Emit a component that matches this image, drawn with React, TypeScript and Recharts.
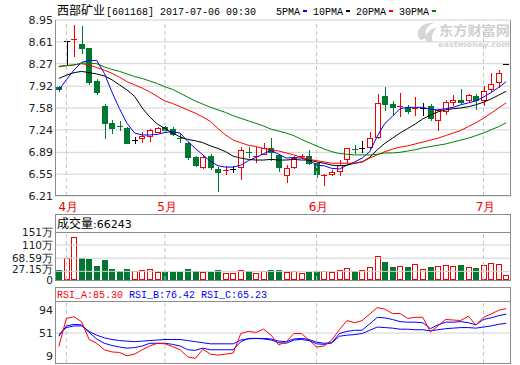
import {
  Bar,
  CartesianGrid,
  ComposedChart,
  Line,
  ReferenceLine,
  XAxis,
  YAxis,
} from "recharts";

// trading days shown (Mar 31 .. Jul 6 2017)
const dates = [
  "03-31",
  "04-05", "04-06", "04-07", "04-10", "04-11", "04-12", "04-13", "04-14", "04-17", "04-18", "04-19", "04-20", "04-21",
  "05-02", "05-03", "05-04", "05-05", "05-08", "05-09", "05-10", "05-11", "05-12", "05-15",
  "05-16", "05-17", "05-18", "05-19", "05-22", "05-23", "05-24", "05-25", "05-26", "05-31",
  "06-01", "06-02", "06-05", "06-06", "06-07", "06-08", "06-09", "06-12", "06-13", "06-14", "06-15",
  "06-16", "06-19", "06-20", "06-21", "06-22", "06-23", "06-26", "06-27", "06-28", "06-29", "06-30",
  "07-03", "07-04", "07-05", "07-06",
];

const opens = [
  7.9, 8.62, 8.64, 8.57, 8.51, 8.0, 7.61, 7.34, 7.3, 7.27, 7.08, 7.11, 7.15, 7.21, 7.28,
  7.26, 7.12, 7.04, 6.82, 6.66, 6.83, 6.63, 6.6, 6.63, 6.66, 6.9, 6.81, 6.87, 6.95, 6.85,
  6.54, 6.66, 6.82, 6.83, 6.72, 6.52, 6.55, 6.6, 6.78, 6.94, 6.96, 6.98, 7.13, 7.76, 7.65,
  7.6, 7.59, 7.57, 7.58, 7.61, 7.4, 7.53, 7.68, 7.7, 7.7, 7.77, 7.7, 7.88, 7.98, 8.27,
];
const highs = [
  7.93, 8.62, 8.87, 8.85, 8.52, 8.03, 7.65, 7.4, 7.37, 7.28, 7.13, 7.21, 7.26, 7.29, 7.3,
  7.28, 7.17, 7.05, 6.83, 6.83, 6.87, 6.66, 6.68, 6.68, 6.98, 6.98, 6.98, 7.03, 7.11, 6.86,
  6.69, 6.83, 6.86, 6.92, 6.73, 6.55, 6.62, 6.77, 6.96, 7.0, 7.06, 7.2, 7.8, 7.9, 7.69,
  7.81, 7.62, 7.75, 7.66, 7.64, 7.56, 7.7, 7.78, 7.87, 7.8, 7.8, 7.92, 8.12, 8.17, 8.27,
];
const lows = [
  7.84, 8.26, 8.39, 8.44, 7.96, 7.8, 7.12, 7.19, 7.24, 7.03, 7.03, 7.05, 7.06, 7.2, 7.22,
  7.16, 7.05, 6.78, 6.68, 6.64, 6.63, 6.29, 6.55, 6.58, 6.47, 6.81, 6.74, 6.86, 6.77, 6.6,
  6.43, 6.65, 6.8, 6.71, 6.5, 6.38, 6.54, 6.54, 6.74, 6.88, 6.9, 6.95, 7.12, 7.55, 7.47,
  7.45, 7.5, 7.47, 7.47, 7.4, 7.24, 7.48, 7.63, 7.66, 7.68, 7.56, 7.63, 7.85, 7.9, 8.26,
];
const closes = [
  7.87, 8.62, 8.66, 8.52, 7.98, 7.83, 7.35, 7.27, 7.28, 7.04, 7.08, 7.15, 7.24, 7.27, 7.23,
  7.18, 7.1, 6.82, 6.69, 6.81, 6.66, 6.58, 6.62, 6.63, 6.92, 6.88, 6.83, 6.95, 6.9, 6.66,
  6.64, 6.8, 6.83, 6.72, 6.55, 6.53, 6.59, 6.69, 6.95, 6.92, 6.96, 7.12, 7.66, 7.65, 7.59,
  7.61, 7.54, 7.58, 7.58, 7.42, 7.55, 7.68, 7.7, 7.68, 7.78, 7.7, 7.85, 7.95, 8.13, 8.27,
];

const ma5 = [
  7.86, 8.02, 8.17, 8.29, 8.32, 8.32, 8.12, 7.83, 7.57, 7.34, 7.19, 7.16, 7.16, 7.17, 7.2,
  7.21, 7.19, 7.06, 6.95, 6.85, 6.75, 6.68, 6.66, 6.66, 6.69, 6.76, 6.81, 6.87, 6.92, 6.86,
  6.8, 6.81, 6.8, 6.77, 6.69, 6.68, 6.64, 6.63, 6.69, 6.74, 6.8, 6.9, 7.14, 7.34, 7.45,
  7.57, 7.59, 7.59, 7.59, 7.56, 7.55, 7.57, 7.59, 7.63, 7.66, 7.69, 7.75, 7.82, 7.9, 7.99,
];
const ma10 = [
  8.04, 8.09, 8.13, 8.15, 8.13, 8.11, 8.08, 8.02, 7.94, 7.86, 7.76, 7.58, 7.44, 7.33, 7.26,
  7.19, 7.13, 7.09, 7.07, 7.04, 6.99, 6.95, 6.9, 6.83, 6.8, 6.78, 6.77, 6.77, 6.78, 6.77,
  6.77, 6.78, 6.77, 6.77, 6.74, 6.72, 6.69, 6.68, 6.69, 6.72, 6.74, 6.81, 6.93, 7.03, 7.11,
  7.19, 7.26, 7.33, 7.41, 7.47, 7.52, 7.55, 7.57, 7.58, 7.6, 7.63, 7.67, 7.72, 7.78, 7.84,
];
const ma20 = [
  8.22, 8.24, 8.25, 8.27, 8.25, 8.21, 8.17, 8.12, 8.06, 7.99, 7.94, 7.89, 7.83, 7.76, 7.69,
  7.65, 7.6, 7.55, 7.5, 7.44, 7.37, 7.26, 7.16, 7.08, 7.04, 7.0, 6.98, 6.95, 6.93, 6.91,
  6.88, 6.85, 6.81, 6.78, 6.76, 6.74, 6.72, 6.72, 6.72, 6.72, 6.74, 6.8, 6.85, 6.9, 6.94,
  6.97, 6.99, 7.02, 7.05, 7.08, 7.11, 7.15, 7.19, 7.23, 7.29, 7.35, 7.42, 7.5, 7.58, 7.66,
];
const ma30 = [
  8.23, 8.24, 8.25, 8.28, 8.28, 8.27, 8.22, 8.18, 8.15, 8.11, 8.07, 8.04, 8.0, 7.96, 7.91,
  7.87, 7.81, 7.75, 7.69, 7.64, 7.59, 7.55, 7.51, 7.46, 7.42, 7.38, 7.34, 7.3, 7.25, 7.22,
  7.19, 7.15, 7.09, 7.04, 6.99, 6.94, 6.9, 6.87, 6.86, 6.85, 6.85, 6.85, 6.86, 6.88, 6.88,
  6.89, 6.91, 6.93, 6.96, 6.98, 7.0, 7.02, 7.05, 7.08, 7.11, 7.15, 7.19, 7.24, 7.29, 7.35,
];

// volume in 万
const volumes = [
  31, 68, 134, 68, 65, 44, 63, 34, 28, 34, 28, 30, 34, 25, 25,
  25, 25, 34, 28, 25, 25, 30, 21, 21, 30, 28, 23, 28, 31, 31,
  24, 27, 21, 25, 28, 27, 24, 30, 37, 28, 30, 40, 74, 57, 41,
  43, 41, 49, 34, 41, 43, 46, 43, 47, 40, 38, 46, 53, 49, 15,
];

const rsiA = [
  26, 78, 81, 72, 39, 32, 20, 16, 15, 9, 12, 20, 27, 32, 31,
  26, 20, 7, 4, 21, 12, 10, 12, 14, 50, 54, 52, 58, 47, 29,
  35, 50, 50, 38, 25, 27, 38, 57, 74, 70, 74, 86, 98, 95, 87,
  87, 78, 80, 80, 53, 64, 76, 75, 74, 82, 66, 80, 86, 93, 96,
];
const rsiB = [
  45, 64, 67, 66, 52, 40, 32, 28, 25, 23, 24, 27, 32, 32, 32,
  30, 27, 20, 19, 23, 20, 20, 20, 20, 35, 41, 41, 40, 38, 33,
  32, 38, 39, 37, 31, 30, 33, 50, 54, 56, 56, 68, 80, 79, 76,
  72, 71, 71, 70, 59, 66, 71, 71, 72, 70, 66, 76, 79, 83, 86,
];
const rsiC = [
  48, 61, 64, 64, 54, 47, 42, 39, 37, 36, 35, 36, 37, 38, 39,
  39, 39, 37, 35, 33, 31, 31, 31, 31, 38, 40, 41, 41, 40, 36,
  35, 40, 41, 39, 34, 32, 33, 45, 47, 48, 50, 56, 62, 61, 60,
  58, 58, 57, 57, 55, 57, 59, 60, 61, 61, 60, 62, 64, 67, 69,
];

const priceTicks = [8.95, 8.61, 8.27, 7.92, 7.58, 7.24, 6.89, 6.55, 6.21];
const volumeTicks = [0, 27.15, 68.59, 110, 151];
const volumeLabels = ["0", "27.15万", "68.59万", "110万", "151万"];
const rsiTicks = [9, 51, 94];
const monthStarts = ["04-05", "05-02", "06-01", "07-03"];
const monthLabels = ["4月", "5月", "6月", "7月"];

const maSeries = [
  { key: "ma5", name: "5PMA", color: "#0000ff" },
  { key: "ma10", name: "10PMA", color: "#000000" },
  { key: "ma20", name: "20PMA", color: "#ff0000" },
  { key: "ma30", name: "30PMA", color: "#008000" },
];

const rows = dates.map((d, i) => ({
  d,
  open: opens[i],
  high: highs[i],
  low: lows[i],
  close: closes[i],
  range: [lows[i], highs[i]],
  ma5: ma5[i],
  ma10: ma10[i],
  ma20: ma20[i],
  ma30: ma30[i],
  vol: volumes[i],
  rsiA: rsiA[i],
  rsiB: rsiB[i],
  rsiC: rsiC[i],
}));

const UP = "#f00000";
const DOWN = "#00782f";
const GRID = "#d2d2d2";
const DASH = "#c4c4c4";
const FRAME = "#8c8c8c";
const SANS = "'DejaVu Sans', Verdana, sans-serif";
const MONO = "'Liberation Mono', 'DejaVu Sans Mono', monospace";
const CJK = "'Noto Sans CJK SC', sans-serif";

function Candle(props: any) {
  const { x, y, width, height, payload } = props;
  const { open, close, high, low } = payload;
  const span = high - low;
  const toY = (v: number) =>
    Math.round(span > 0 ? y + ((high - v) / span) * height : y);
  const left = Math.round(x);
  const w = Math.round(width);
  const cx = left + Math.floor(w / 2) + 0.5;
  const yHigh = toY(high);
  const yLow = toY(low);
  const yTop = toY(Math.max(open, close));
  const yBot = toY(Math.min(open, close));
  const color = close > open ? UP : close < open ? DOWN : "#000";

  if (yBot - yTop < 2) {
    return (
      <g stroke={color} shapeRendering="crispEdges">
        <line x1={cx} x2={cx} y1={yHigh} y2={yLow + 1} />
        <line x1={left} x2={left + w} y1={yTop + 0.5} y2={yTop + 0.5} />
      </g>
    );
  }
  if (close > open) {
    return (
      <g stroke={UP} shapeRendering="crispEdges">
        <line x1={cx} x2={cx} y1={yHigh} y2={yTop} />
        <line x1={cx} x2={cx} y1={yBot} y2={yLow + 1} />
        <rect x={left + 0.5} y={yTop + 0.5} width={w - 1} height={yBot - yTop} fill="#fff" />
      </g>
    );
  }
  return (
    <g shapeRendering="crispEdges">
      <line x1={cx} x2={cx} y1={yHigh} y2={yLow + 1} stroke={DOWN} />
      <rect x={left} y={yTop} width={w} height={yBot - yTop + 1} fill={DOWN} />
    </g>
  );
}

function VolumeBar(props: any) {
  const { x, y, width, height, payload } = props;
  const left = Math.round(x);
  const w = Math.round(width);
  const top = Math.round(y);
  const bottom = Math.round(y + height);
  if (payload.close >= payload.open) {
    return (
      <rect x={left + 0.5} y={top + 0.5} width={w - 1} height={Math.max(bottom - top - 1, 0)}
        fill="#fff" stroke={UP} shapeRendering="crispEdges" />
    );
  }
  return <rect x={left} y={top} width={w} height={bottom - top} fill={DOWN} shapeRendering="crispEdges" />;
}

function MonthTick({ x, y, payload }: any) {
  const label = monthLabels[monthStarts.indexOf(payload.value)];
  return (
    <text x={x + 2} y={y + 15} textAnchor="middle" fontFamily={SANS} fontSize={12} fill="#ee0000">
      {label}
    </text>
  );
}

function ValueTick({ x, y, payload, labels, values, size = 11 }: any) {
  const text = labels ? labels[values.indexOf(payload.value)] : String(payload.value);
  // the lowest non-zero volume label sits a little above its line, as in the source chart
  const nudge = labels && values.indexOf(payload.value) === 1 ? -2.5 : 0;
  return (
    <text x={x - 2} y={y + nudge} dy={size * 0.36} textAnchor="end" fontFamily={SANS} fontSize={size} fill="#222">
      {text}
    </text>
  );
}

const axisProps = { axisLine: false, tickLine: false, tickSize: 0, tickMargin: 0 } as const;

function MonthLines() {
  return (
    <>
      {monthStarts.map((m) => (
        <ReferenceLine key={m} x={m} stroke={DASH} strokeDasharray="4 3" />
      ))}
    </>
  );
}

export default function App() {
  const monoText = (x: number, y: number, s: string, color: string) => (
    <text x={x} y={y} fontFamily={MONO} fontSize={10.5} fill={color}
      textLength={s.length * 6} lengthAdjust="spacingAndGlyphs">
      {s}
    </text>
  );

  let lx = 276;
  const legend = maSeries.map((s) => {
    const tx = lx;
    const mx = tx + s.name.length * 6 + 3;
    lx = mx + 4 + 6;
    return (
      <g key={s.key}>
        {monoText(tx, 15, s.name, "#000")}
        <rect x={mx} y={10} width={4} height={2} fill={s.color} />
      </g>
    );
  });

  return (
    <div style={{ position: "absolute", left: 0, top: 0, width: 520, height: 365, background: "#fff" }}>
      {/* watermark */}
      <svg width={520} height={365} style={{ position: "absolute", left: 0, top: 0 }}>
        <path d="M420 40 C414 30 422 22 434 23 C426 26 423 32 428 38 Z" fill="#d6d6d6" />
        <path d="M426 42 C424 34 430 28 437 28 C432 32 431 37 433 42 Z" fill="#d6d6d6" />
        <text x={439} y={35} fontFamily={CJK} fontSize={13} fontWeight={700} fill="#cfcfcf"
          textLength={71} lengthAdjust="spacingAndGlyphs">
          东方财富网
        </text>
        <text x={438} y={47} fontFamily={SANS} fontSize={7} fontWeight={700} fill="#d2d2d2"
          textLength={72} lengthAdjust="spacingAndGlyphs">
          eastmoney.com
        </text>
      </svg>

      <div style={{ position: "absolute", left: 0, top: 0 }}>
        <ComposedChart width={520} height={215} data={rows} margin={{ top: 20, right: 10, bottom: 0, left: 0 }}>
          <CartesianGrid vertical={false} stroke={GRID} />
          <XAxis dataKey="d" scale="band" ticks={monthStarts} interval={0} height={19} {...axisProps}
            tick={<MonthTick />} />
          <YAxis width={55} domain={[6.21, 8.95]} ticks={priceTicks} interval={0} allowDataOverflow {...axisProps}
            tick={<ValueTick />} />
          {MonthLines()}
          <Bar dataKey="range" barSize={6} shape={(p: any) => <Candle {...p} />} isAnimationActive={false} />
          {maSeries.map((s) => (
            <Line key={s.key} dataKey={s.key} stroke={s.color} strokeWidth={1} dot={false}
              activeDot={false} isAnimationActive={false} />
          ))}
        </ComposedChart>
      </div>

      <div style={{ position: "absolute", left: 0, top: 215 }}>
        <ComposedChart width={520} height={72} data={rows} margin={{ top: 17, right: 10, bottom: 7, left: 0 }}>
          <XAxis dataKey="d" scale="band" hide />
          <YAxis width={55} domain={[0, 151]} ticks={volumeTicks} interval={0} allowDataOverflow {...axisProps}
            tick={<ValueTick labels={volumeLabels} values={volumeTicks} size={10.5} />} />
          {volumeTicks.slice(1, 4).map((v) => (
            <ReferenceLine key={v} y={v} stroke={GRID} />
          ))}
          {MonthLines()}
          <Bar dataKey="vol" barSize={6} shape={(p: any) => <VolumeBar {...p} />} isAnimationActive={false} />
        </ComposedChart>
      </div>

      <div style={{ position: "absolute", left: 0, top: 287 }}>
        <ComposedChart width={520} height={78} data={rows} margin={{ top: 15, right: 10, bottom: 2, left: 0 }}>
          <XAxis dataKey="d" scale="band" hide />
          <YAxis width={55} domain={[-4.45, 108.3]} ticks={rsiTicks} interval={0} allowDataOverflow {...axisProps}
            tick={<ValueTick />} />
          <ReferenceLine y={51} stroke={GRID} />
          {MonthLines()}
          <Line dataKey="rsiC" stroke="#0000ff" strokeWidth={1} dot={false} activeDot={false} isAnimationActive={false} />
          <Line dataKey="rsiB" stroke="#0000ff" strokeWidth={1} dot={false} activeDot={false} isAnimationActive={false} />
          <Line dataKey="rsiA" stroke="#ff0000" strokeWidth={1} dot={false} activeDot={false} isAnimationActive={false} />
        </ComposedChart>
      </div>

      {/* frames and headers */}
      <svg width={520} height={365} style={{ position: "absolute", left: 0, top: 0, pointerEvents: "none" }}>
        <g fill="none" stroke={FRAME} shapeRendering="crispEdges">
          <path d="M55.5 20 V195.5 H510.5 V20" />
          <rect x={55.5} y={214.5} width={455} height={66} />
          <line x1={55} x2={511} y1={232.5} y2={232.5} />
          <rect x={55.5} y={287.5} width={455} height={76} />
          <line x1={55} x2={511} y1={301.5} y2={301.5} />
        </g>
        <text x={57} y={15} fontFamily={CJK} fontSize={12} fill="#000">西部矿业</text>
        {monoText(106, 15, "[601168] 2017-07-06 09:30", "#000")}
        {legend}
        <text x={57} y={228} fontFamily={CJK} fontSize={12} fill="#000">成交量</text>
        <text x={93} y={228} fontFamily={SANS} fontSize={11} fill="#000">:66243</text>
        {monoText(57, 298, "RSI_A:85.30", "#ff0000")}
        {monoText(129, 298, "RSI_B:76.42", "#0000ff")}
        {monoText(201, 298, "RSI_C:65.23", "#0000ff")}
      </svg>
    </div>
  );
}
